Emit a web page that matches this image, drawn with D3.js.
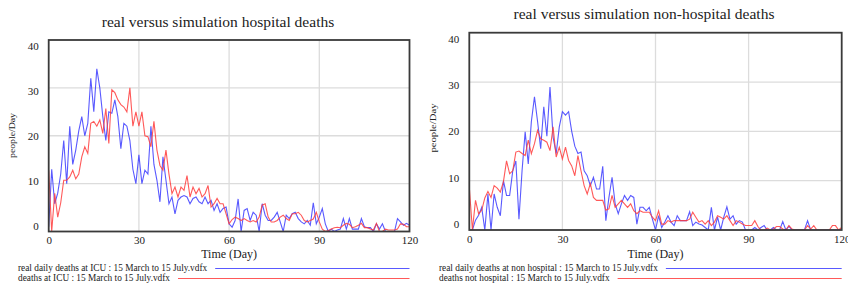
<!DOCTYPE html>
<html>
<head>
<meta charset="utf-8">
<script src="https://cdn.jsdelivr.net/npm/d3@7"></script>
<style>
  body { margin: 0; background: #fff; }
  text { font-family: "Liberation Serif", "Times New Roman", serif; fill: #222; }
</style>
</head>
<body>
<div id="chart-container"></div>
<script>
// days 0..120
const days = d3.range(0, 121);
const xTicks = [0, 30, 60, 90, 120];
const yTicks = [0, 10, 20, 30, 40];

// hospital (ICU) deaths
const icuReal = [
  1, 13, 5.8, 8, 12, 19, 10, 22, 14, 17,
  21, 24, 20, 22.6, 32, 25, 34, 30, 24, 19,
  25, 24.7, 27.5, 24, 17.3, 22.6, 22, 19, 13, 10,
  16, 10, 12.8, 12, 22, 14, 10.7, 6.2, 15.6, 10.7,
  5.8, 7.2, 3.7, 6.5, 7.2, 7.5, 7.2, 5.8, 6.9, 7.2,
  6.2, 5.8, 7.2, 5.8, 6.5, 4.4, 5.8, 4, 4.8, 5.1,
  1.6, 0.9, 2.3, 6.8, 0, 4.4, 4.8, 2.3, 4, 3.4,
  0, 5.8, 3.4, 2.3, 2.3, 3, 4, 2, 0, 3.4,
  2.7, 3.7, 4, 2.7, 2, 1.6, 2.3, 1.3, 6, 1.6,
  3, 4.8, 1.6, 0, 0.5, 0, 0.3, 0.5, 2.7, 0.5,
  2.7, 0.5, 0.5, 0.5, 2.7, 1, 0.8, 0.8, 0, 1.6,
  0.5, 1.6, 0, 0, 0, 0, 2.7, 2, 1.3, 1.7,
  1.3
];
const icuSim = [
  12.8, 0, 8, 3, 6, 10.7, 10.7, 11.4, 12.8, 11,
  12, 15.6, 17.7, 16.3, 22.6, 23, 22, 23.3, 20.5, 25.7,
  18.4, 29.6, 29, 27.5, 26.5, 26, 25, 30, 22, 25,
  22, 25, 20, 19.8, 17.7, 23, 17, 13.8, 12.8, 17,
  12, 7.9, 9.3, 7.2, 9.3, 8.6, 11.7, 7.2, 9.3, 7.9,
  9, 7.2, 7.9, 9.6, 5.1, 5.8, 6.9, 5.8, 5.8, 3.7,
  1.6, 2.5, 3, 2.7, 2.3, 2.7, 2.3, 2, 2.3, 2,
  3, 5.5, 5.8, 3, 2, 2, 2.3, 3, 3.4, 2.7,
  2.3, 3.7, 3.7, 4, 3.4, 2.3, 2, 2.3, 2.6, 4,
  2, 0.5, 0, 0.2, 0.5, 0.8, 0.9, 0.8, 1.3, 1.7,
  1.5, 0.8, 1, 1.3, 1.7, 0.8, 0.8, 0.5, 0.3, 1.7,
  0, 0, 0.5, 0.3, 0.3, 0.3, 0.5, 1.6, 1.5, 1,
  1
];

// non-hospital deaths
const nonHospReal = [
  0, 0, 2, 3, 4.6, 0, 7.3, 0, 7.3, 4.6,
  2.9, 10, 7, 7, 12, 14, 2.2, 12, 19.9, 13.4,
  22, 27, 22, 16.5, 25, 19, 29, 18.8, 15.5, 20.9,
  24, 23.3, 24, 20, 17, 15.5, 15.8, 12, 11, 9,
  10.7, 8.3, 8.3, 12.9, 1.9, 6.6, 10.7, 5.3, 3.3, 5.3,
  7, 6, 7, 6.6, 1.2, 4.6, 4.6, 3.9, 4.6, 2.2,
  0, 2.9, 0.5, 1.6, 2.9, 1.6, 0.9, 2.9, 1.9, 1.9,
  1.9, 3.7, 0.9, 1.6, 1.2, 1, 0.5, 0, 4.6, 0,
  2.6, 0, 2.6, 4.7, 2.2, 2.9, 1.2, 1.9, 1.6, 0,
  0, 0, 0.5, 0, 0.5, 0.9, 0, 0, 0.5, 0,
  0, 1.7, 0, 0.8, 0, 0, 0, 0, 0, 1.9,
  0, 0, 0, 0, 0, 0, 0, 0, 0, 0,
  0
];
const nonHospSim = [
  8.7, 0, 6, 3.3, 4, 6.5, 7.8, 6.6, 9, 8.5,
  7.7, 9.8, 14, 11.4, 12, 15.8, 16, 15.5, 15.1, 18.2,
  15.5, 17.5, 20.2, 18.5, 18.2, 17.8, 16.1, 20.9, 14.8, 16.8,
  14.4, 16.8, 14.1, 13, 11, 15.1, 12, 9, 7.3, 9.4,
  6.6, 6, 6, 6, 4, 4.3, 7, 4.6, 5.3, 6,
  5.3, 4.6, 5.3, 3.9, 3.3, 3.9, 3.6, 3.6, 3.6, 2.6,
  1.9, 3.9, 1.2, 1.2, 1.9, 1.6, 1.9, 1.9, 1.9, 1.9,
  1.9, 2.2, 3.6, 2.6, 1.6, 1.9, 1.2, 1.9, 0.9, 1.6,
  2.9, 2.6, 2.2, 2.9, 1.9, 0.9, 1.9, 1.6, 1.2, 0.9,
  0.9, 0.9, 1.9, 0.7, 0, 0, 0.4, 0, 0.2, 0.7,
  0.7, 0.2, 0, 0.9, 0.2, 0, 0, 0, 0, 0.9,
  0.2, 0.9, 0, 0, 0, 0, 0, 0.9, 0.9, 0,
  0.5
];

const blue = '#3c3cff';
const red = '#ff3c3c';

const svg = d3.select('#chart-container')
              .append('svg')
              .attr('width', 848)
              .attr('height', 286);

function drawChart(cfg) {
  const g = svg.append('g');

  const x = d3.scaleLinear().domain([0, 120]).range([cfg.left, cfg.right]);
  const y = d3.scaleLinear().domain([0, 40]).range([cfg.bottom, cfg.top]);
  // vensim pulls the end labels inward
  const yLab = d3.scaleLinear().domain([0, 40]).range([cfg.bottom - 6, cfg.top + 6]);

  // title
  g.append('text')
   .attr('x', cfg.titleX)
   .attr('y', cfg.titleY)
   .attr('text-anchor', 'middle')
   .style('font-size', '15.5px')
   .text(cfg.title);

  // grid
  g.selectAll('.hgrid')
   .data([10, 20, 30])
   .enter().append('line')
   .attr('x1', cfg.left).attr('x2', cfg.right)
   .attr('y1', d => y(d)).attr('y2', d => y(d))
   .attr('stroke', '#dcdcdc')
   .attr('stroke-width', 1.3);
  g.selectAll('.vgrid')
   .data([30, 60, 90])
   .enter().append('line')
   .attr('y1', cfg.top).attr('y2', cfg.bottom)
   .attr('x1', d => x(d)).attr('x2', d => x(d))
   .attr('stroke', '#dcdcdc')
   .attr('stroke-width', 1.3);

  // series
  const clipId = 'clip' + cfg.id;
  g.append('clipPath').attr('id', clipId)
   .append('rect')
   .attr('x', cfg.left).attr('y', cfg.top)
   .attr('width', cfg.right - cfg.left).attr('height', cfg.bottom - cfg.top);

  const line = d3.line()
                 .x((d, i) => x(days[i]))
                 .y(d => y(d));

  cfg.series.forEach(s => {
    g.append('path')
     .datum(s.values)
     .attr('clip-path', `url(#${clipId})`)
     .attr('d', line)
     .attr('fill', 'none')
     .attr('stroke', s.color)
     .attr('stroke-opacity', 0.85)
     .attr('stroke-width', 1.1);
  });

  // frame
  g.append('rect')
   .attr('x', cfg.left).attr('y', cfg.top)
   .attr('width', cfg.right - cfg.left).attr('height', cfg.bottom - cfg.top)
   .attr('fill', 'none')
   .attr('stroke', '#3a3a3a')
   .attr('stroke-width', 1.8);

  // axes labels
  const yAxis = d3.axisLeft(yLab).tickValues(yTicks).tickSize(0).tickPadding(0);
  const ya = g.append('g')
              .attr('transform', `translate(${cfg.left - 10},0)`)
              .call(yAxis);
  ya.select('.domain').remove();
  ya.selectAll('text')
    .style('font-family', '"Liberation Serif", serif')
    .style('font-size', '11px')
    .attr('fill', '#222');

  const xAxis = d3.axisBottom(x).tickValues(xTicks).tickSize(0).tickPadding(0);
  const xa = g.append('g')
              .attr('transform', `translate(0,${cfg.bottom + 5})`)
              .call(xAxis);
  xa.select('.domain').remove();
  xa.selectAll('text')
    .style('font-family', '"Liberation Serif", serif')
    .style('font-size', '11px')
    .attr('fill', '#222');

  g.append('text')
   .attr('x', (cfg.left + cfg.right) / 2)
   .attr('y', 258)
   .attr('text-anchor', 'middle')
   .style('font-size', '12px')
   .text('Time (Day)');

  g.append('text')
   .attr('transform', `translate(${cfg.yLabelX},${cfg.yLabelY}) rotate(-90)`)
   .attr('text-anchor', 'middle')
   .attr('textLength', cfg.yLabelLen)
   .attr('lengthAdjust', 'spacingAndGlyphs')
   .style('font-size', '8.5px')
   .text('people/Day');

  // legend
  cfg.series.forEach((s, i) => {
    const ty = 271 + i * 10;
    const t = g.append('text')
               .attr('x', cfg.legendX)
               .attr('y', ty)
               .style('font-size', '9.3px')
               .text(s.name);
    const w = t.node().getComputedTextLength();
    g.append('line')
     .attr('x1', cfg.legendX + w + 8).attr('x2', cfg.right)
     .attr('y1', ty - 2.5).attr('y2', ty - 2.5)
     .attr('stroke', s.color)
     .attr('stroke-opacity', 0.85)
     .attr('stroke-width', 1);
  });
}

drawChart({
  id: 'a',
  title: 'real versus simulation hospital deaths',
  titleX: 218, titleY: 27,
  left: 48.7, right: 409.5, top: 40, bottom: 231.5,
  yLabelX: 15, yLabelY: 135.5, yLabelLen: 45,
  legendX: 18,
  series: [
    { name: 'real daily deaths at ICU : 15 March to 15 July.vdfx', values: icuReal, color: blue },
    { name: 'deaths at ICU : 15 March to 15 July.vdfx', values: icuSim, color: red }
  ]
});

drawChart({
  id: 'b',
  title: 'real versus simulation non-hospital deaths',
  titleX: 644, titleY: 19,
  left: 469.3, right: 841.7, top: 32.7, bottom: 230,
  yLabelX: 435.5, yLabelY: 128, yLabelLen: 49,
  legendX: 439,
  series: [
    { name: 'real daily deaths at non hospital : 15 March to 15 July.vdfx', values: nonHospReal, color: blue },
    { name: 'deaths not hospital : 15 March to 15 July.vdfx', values: nonHospSim, color: red }
  ]
});
</script>
</body>
</html>
